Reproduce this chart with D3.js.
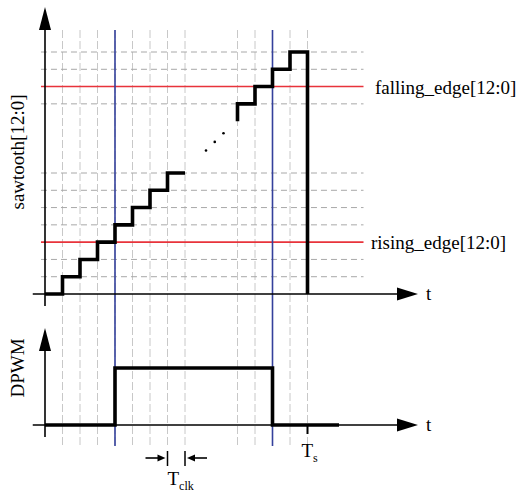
<!DOCTYPE html>
<html>
<head>
<meta charset="utf-8">
<script src="https://cdn.jsdelivr.net/npm/d3@7"></script>
<style>
  html, body { margin: 0; padding: 0; background: #fff; }
  svg { display: block; }
  text { font-family: "Liberation Serif", "DejaVu Serif", serif; fill: #000; }
</style>
</head>
<body>
<div id="chart"></div>
<script>
// clock periods are the x unit, sawtooth counts are the y unit
const clkTicks = [1, 2, 3, 4, 5, 6, 7, 8, 11, 12, 13, 14, 15];
const countLevels = [1, 2, 3, 4, 5, 6, 7, 11, 12, 13, 14];
const risingEdge = 3;
const fallingEdge = 12;
const edgeTimes = [4, 13];
const periodEnd = 15;

const rampStartTimes = [0, 1, 2, 3, 4, 5, 6, 7, 8];
const rampStartValues = [0, 1, 2, 3, 4, 5, 6, 7, 7];
const rampEndTimes = [11, 12, 13, 14, 15, 15];
const rampEndValues = [10, 11, 12, 13, 14, 0];
const dotTimes = [9.2, 9.7, 10.2];
const dotValues = [8.3, 8.8, 9.3];

const dpwmTimes = [0, 4, 13, 16.8];
const dpwmValues = [0, 1, 0, 0];

const clkMark = [7, 8];

const W = 519, H = 495;
const red = '#e8333b';
const blue = '#34409c';

const svg = d3.select('#chart').append('svg')
  .attr('width', W)
  .attr('height', H);

const x = d3.scaleLinear().domain([0, periodEnd]).range([45, 307.5]);
const yTop = d3.scaleLinear().domain([0, 14]).range([294, 52]);
const yBot = d3.scaleLinear().domain([0, 1]).range([425, 368]);

const gridTop = 30, gridBottom = 446;

// vertical clock grid
svg.append('g').selectAll('line')
  .data(clkTicks)
  .join('line')
  .attr('x1', d => x(d)).attr('x2', d => x(d))
  .attr('y1', gridTop).attr('y2', gridBottom)
  .attr('stroke', '#c8c8c8')
  .attr('stroke-width', 1)
  .attr('stroke-dasharray', '8,3');

// horizontal count grid
svg.append('g').selectAll('line')
  .data(countLevels.filter(d => d !== risingEdge && d !== fallingEdge))
  .join('line')
  .attr('x1', x(-0.23)).attr('x2', x(18.2))
  .attr('y1', d => yTop(d)).attr('y2', d => yTop(d))
  .attr('stroke', '#a8a8a8')
  .attr('stroke-width', 1)
  .attr('stroke-dasharray', '6,4');

// compare thresholds
svg.append('g').selectAll('line')
  .data([risingEdge, fallingEdge])
  .join('line')
  .attr('x1', x(-0.23)).attr('x2', x(18.2))
  .attr('y1', d => yTop(d)).attr('y2', d => yTop(d))
  .attr('stroke', red)
  .attr('stroke-width', 1.6);

// edge instants
svg.append('g').selectAll('line')
  .data(edgeTimes)
  .join('line')
  .attr('x1', d => x(d)).attr('x2', d => x(d))
  .attr('y1', gridTop).attr('y2', gridBottom)
  .attr('stroke', blue)
  .attr('stroke-width', 1.6);

// axes with arrow heads
function axisArrows(yScale, yTip, yLow) {
  const g = svg.append('g');
  const x0 = x(0), y0 = yScale(0);
  const xTip = 418;
  g.append('line')
    .attr('x1', x0).attr('x2', x0)
    .attr('y1', yLow).attr('y2', yTip + 10)
    .attr('stroke', '#000').attr('stroke-width', 1.6);
  g.append('path')
    .attr('d', `M${x0},${yTip}L${x0 - 6},${yTip + 23}L${x0 + 6},${yTip + 23}Z`)
    .attr('fill', '#000');
  g.append('line')
    .attr('x1', x(-0.7)).attr('x2', xTip - 10)
    .attr('y1', y0).attr('y2', y0)
    .attr('stroke', '#000').attr('stroke-width', 1.6);
  g.append('path')
    .attr('d', `M${xTip},${y0}L${xTip - 21},${y0 - 6.5}L${xTip - 21},${y0 + 6.5}Z`)
    .attr('fill', '#000');
  g.append('text')
    .attr('x', xTip + 8).attr('y', y0 + 6)
    .attr('font-size', 19)
    .text('t');
}
axisArrows(yTop, 7, 306);
axisArrows(yBot, 328, 437);

// sawtooth counter
const rampA = d3.line()
  .x(d => x(d[0])).y(d => yTop(d[1]))
  .curve(d3.curveStepAfter);
const rampB = d3.line()
  .x(d => x(d[0])).y(d => yTop(d[1]))
  .curve(d3.curveStepBefore);

svg.append('path')
  .attr('d', rampA(d3.zip(rampStartTimes, rampStartValues)))
  .attr('fill', 'none').attr('stroke', '#000')
  .attr('stroke-width', 3.6).attr('stroke-linejoin', 'miter');
svg.append('path')
  .attr('d', rampB(d3.zip(rampEndTimes, rampEndValues)))
  .attr('fill', 'none').attr('stroke', '#000')
  .attr('stroke-width', 3.6).attr('stroke-linejoin', 'miter');

svg.append('g').selectAll('circle')
  .data(d3.zip(dotTimes, dotValues))
  .join('circle')
  .attr('cx', d => x(d[0])).attr('cy', d => yTop(d[1]))
  .attr('r', 1.3)
  .attr('fill', '#000');

// DPWM output
const dpwmLine = d3.line()
  .x(d => x(d[0])).y(d => yBot(d[1]))
  .curve(d3.curveStepAfter);
svg.append('path')
  .attr('d', dpwmLine(d3.zip(dpwmTimes, dpwmValues)))
  .attr('fill', 'none').attr('stroke', '#000')
  .attr('stroke-width', 3.6);

// Ts tick and label
svg.append('line')
  .attr('x1', x(periodEnd)).attr('x2', x(periodEnd))
  .attr('y1', yBot(0)).attr('y2', yBot(0) + 9)
  .attr('stroke', '#000').attr('stroke-width', 2);
const ts = svg.append('text')
  .attr('x', x(periodEnd) - 6).attr('y', 457)
  .attr('font-size', 19);
ts.append('tspan').text('T');
ts.append('tspan').attr('font-size', 12).attr('dy', 5).text('s');

// Tclk marker
const clkY = 458;
const tk = svg.append('g');
tk.selectAll('line.tick')
  .data(clkMark)
  .join('line')
  .attr('class', 'tick')
  .attr('x1', d => x(d)).attr('x2', d => x(d))
  .attr('y1', clkY - 7).attr('y2', clkY + 8)
  .attr('stroke', '#000').attr('stroke-width', 1.5);
tk.append('line')
  .attr('x1', x(clkMark[0]) - 22).attr('x2', x(clkMark[0]) - 6)
  .attr('y1', clkY).attr('y2', clkY)
  .attr('stroke', '#000').attr('stroke-width', 1.6);
tk.append('path')
  .attr('d', `M${x(clkMark[0]) - 2},${clkY}L${x(clkMark[0]) - 10},${clkY - 3.5}L${x(clkMark[0]) - 10},${clkY + 3.5}Z`)
  .attr('fill', '#000');
tk.append('line')
  .attr('x1', x(clkMark[1]) + 6).attr('x2', x(clkMark[1]) + 22)
  .attr('y1', clkY).attr('y2', clkY)
  .attr('stroke', '#000').attr('stroke-width', 1.6);
tk.append('path')
  .attr('d', `M${x(clkMark[1]) + 2},${clkY}L${x(clkMark[1]) + 10},${clkY - 3.5}L${x(clkMark[1]) + 10},${clkY + 3.5}Z`)
  .attr('fill', '#000');
const tclk = svg.append('text')
  .attr('x', x(clkMark[0])).attr('y', 485)
  .attr('font-size', 19);
tclk.append('tspan').text('T');
tclk.append('tspan').attr('font-size', 12).attr('dy', 5).text('clk');

// threshold labels
svg.append('text')
  .attr('x', 375).attr('y', yTop(fallingEdge) + 7)
  .attr('font-size', 19)
  .text('falling_edge[12:0]');
svg.append('text')
  .attr('x', 371).attr('y', yTop(risingEdge) + 7)
  .attr('font-size', 19)
  .text('rising_edge[12:0]');

// axis titles
svg.append('text')
  .attr('transform', 'translate(24,152) rotate(-90)')
  .attr('text-anchor', 'middle')
  .attr('font-size', 19)
  .text('sawtooth[12:0]');
svg.append('text')
  .attr('transform', 'translate(24,368) rotate(-90)')
  .attr('text-anchor', 'middle')
  .attr('font-size', 19)
  .text('DPWM');
</script>
</body>
</html>
